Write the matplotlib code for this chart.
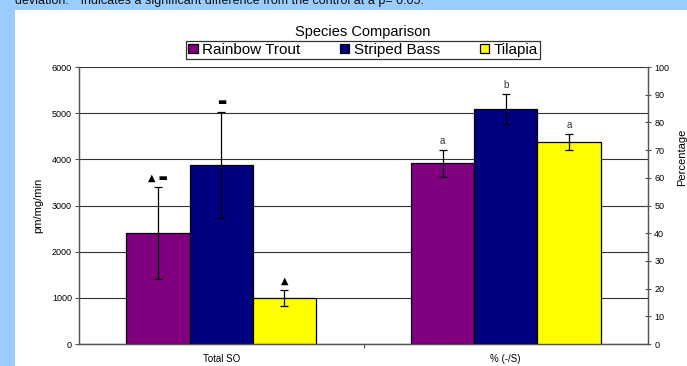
import matplotlib
matplotlib.use("Agg")
import matplotlib.pyplot as plt
import numpy as np
from matplotlib.patches import Rectangle

plt.rcParams['font.family'] = ['Liberation Sans', 'DejaVu Sans']

species = ['Rainbow Trout', 'Striped Bass', 'Tilapia']
colors = ['#800080', '#000080', '#FFFF00']
groups = ['Total SO', '% (-/S)']

total_so = [2400, 3880, 1000]
total_so_sd = [1000, 1150, 170]
pct = [65.2, 84.8, 72.8]
pct_sd = [4.8, 5.5, 2.9]

so_marks = ['▲ ▬', '▬', '▲']
pct_marks = ['a', 'b', 'a']

W, H = 687, 366
fig = plt.figure(figsize=(W / 100, H / 100), dpi=100)
fig.patch.set_facecolor('#99CCFF')
fig.patches.append(Rectangle((15 / W, 0), 1, (H - 10) / H, transform=fig.transFigure,
                             facecolor='white', edgecolor='none', zorder=-10))

fig.text(15 / W, (H - 1) / H,
         'deviation.  *Indicates a significant difference from the control at a p= 0.05.',
         fontsize=9, va='center', ha='left', color='#111111')

ax = fig.add_axes([79 / W, (H - 344) / H, (648 - 79) / W, (344 - 67) / H])
ax.set_facecolor('white')
ax2 = ax.twinx()

ax.set_xlim(-0.5, 1.5)
ax.set_ylim(0, 6000)
ax2.set_ylim(0, 100)

width = 2 / 9
x = np.arange(len(groups))

# left group on the pm/mg/min scale, right group on the percentage scale
for i, (name, c) in enumerate(zip(species, colors)):
    xi = x[0] + (i - 1) * width
    ax.bar(xi, total_so[i], width, color=c, edgecolor='black', linewidth=0.9,
           label=name, zorder=3)
    ax.errorbar(xi, total_so[i], yerr=total_so_sd[i], color='black', capsize=3,
                elinewidth=0.9, capthick=0.9, zorder=4)
    ax.text(xi, total_so[i] + total_so_sd[i] + 100, so_marks[i], ha='center',
            va='bottom', fontsize=7, family='DejaVu Sans', zorder=5)

    xj = x[1] + (i - 1) * width
    ax2.bar(xj, pct[i], width, color=c, edgecolor='black', linewidth=0.9, zorder=3)
    ax2.errorbar(xj, pct[i], yerr=pct_sd[i], color='black', capsize=3,
                 elinewidth=0.9, capthick=0.9, zorder=4)
    ax2.text(xj, pct[i] + pct_sd[i] + 1.5, pct_marks[i], ha='center', va='bottom',
             fontsize=7, color='#333333', zorder=5)

ax.set_yticks(np.arange(0, 6001, 1000))
ax.yaxis.grid(True, color='#333333', linewidth=0.8, zorder=0)
ax.set_axisbelow(True)
ax2.set_yticks(np.arange(0, 101, 10))

ax.set_xticks([0.5])
ax.set_xticklabels([''])
ax.tick_params(axis='x', length=3, direction='out', color='#555555')
for xi, g in zip(x, groups):
    ax.text(xi, -0.035, g, transform=ax.get_xaxis_transform(), ha='center',
            va='top', fontsize=7)

ax.tick_params(axis='y', labelsize=6.5, length=3, color='#555555', pad=2)
ax2.tick_params(axis='y', labelsize=6.5, length=5, direction='inout', color='#555555', pad=2)

for a in (ax, ax2):
    a.spines['top'].set_visible(False)
    for s in ('left', 'right', 'bottom'):
        a.spines[s].set_color('#555555')
        a.spines[s].set_linewidth(0.9)

ax.set_ylabel('pm/mg/min', fontsize=8, labelpad=6)
fig.text(682 / W, (H - 157) / H, 'Percentage', rotation=90, fontsize=8,
         ha='center', va='center')

fig.text(363 / W, (H - 32) / H, 'Species Comparison', fontsize=10.5,
         ha='center', va='center')

handles, labels = ax.get_legend_handles_labels()
leg = fig.legend(handles, labels, loc='center', bbox_to_anchor=(363 / W, (H - 50) / H),
                 ncol=3, fontsize=11, frameon=True, fancybox=False,
                 edgecolor='black', handlelength=0.6, handleheight=0.6,
                 handletextpad=0.3, columnspacing=2.6, borderpad=0.15,
                 borderaxespad=0)
leg.get_frame().set_linewidth(0.9)

fig.savefig('out.png', dpi=100, facecolor=fig.get_facecolor())
